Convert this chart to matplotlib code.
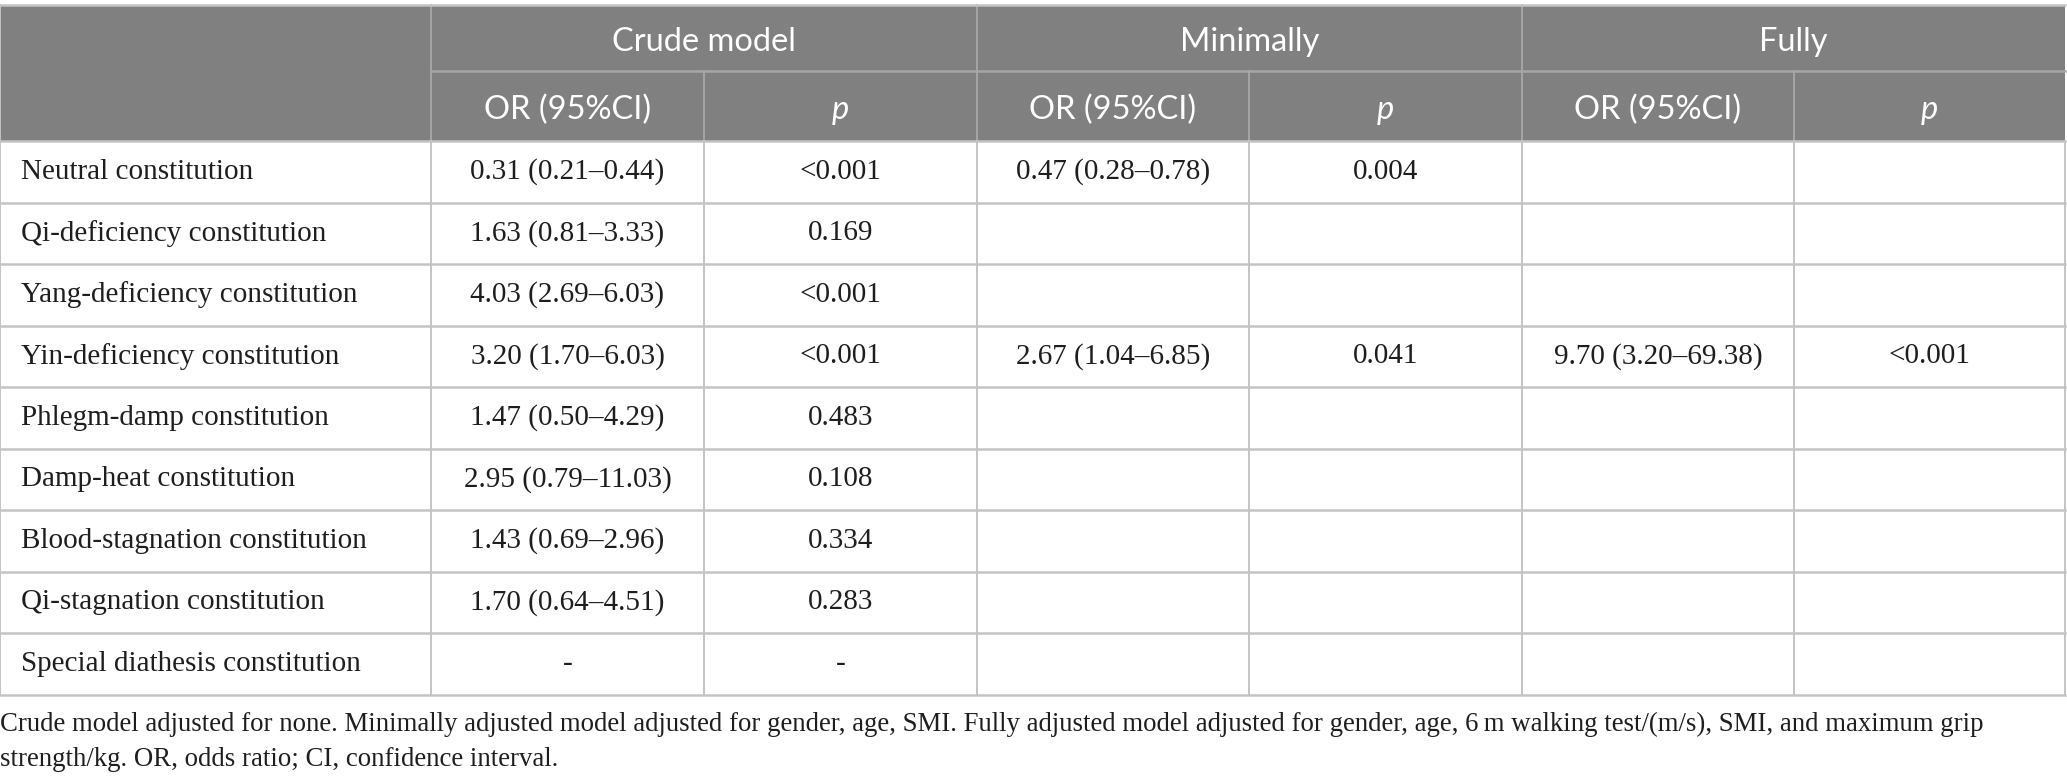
import matplotlib.pyplot as plt
from matplotlib.patches import Rectangle

# table content
row_labels = ['Neutral constitution', 'Qi-deficiency constitution', 'Yang-deficiency constitution',
              'Yin-deficiency constitution', 'Phlegm-damp constitution', 'Damp-heat constitution',
              'Blood-stagnation constitution', 'Qi-stagnation constitution', 'Special diathesis constitution']
model_names = ['Crude model', 'Minimally', 'Fully']
sub_headers = ['OR (95%CI)', 'p']

crude_or = ['0.31 (0.21\u20130.44)', '1.63 (0.81\u20133.33)', '4.03 (2.69\u20136.03)', '3.20 (1.70\u20136.03)',
            '1.47 (0.50\u20134.29)', '2.95 (0.79\u201311.03)', '1.43 (0.69\u20132.96)', '1.70 (0.64\u20134.51)', '-']
crude_p = ['<0.001', '0.169', '<0.001', '<0.001', '0.483', '0.108', '0.334', '0.283', '-']
min_or = ['0.47 (0.28\u20130.78)', '', '', '2.67 (1.04\u20136.85)', '', '', '', '', '']
min_p = ['0.004', '', '', '0.041', '', '', '', '', '']
full_or = ['', '', '', '9.70 (3.20\u201369.38)', '', '', '', '', '']
full_p = ['', '', '', '<0.001', '', '', '', '', '']

footnote = ['Crude model adjusted for none. Minimally adjusted model adjusted for gender, age, SMI. '
            'Fully adjusted model adjusted for gender, age, 6\u2009m walking test/(m/s), SMI, and maximum grip',
            'strength/kg. OR, odds ratio; CI, confidence interval.']

W, H = 2067, 783
fig = plt.figure(figsize=(W / 100, H / 100), dpi=100)
ax = fig.add_axes([0, 0, 1, 1])
ax.set_xlim(0, W)
ax.set_ylim(H, 0)
ax.axis('off')

col_x = [0, 431, 704, 977, 1249, 1522, 1794, 2065]
head_y = [5, 71, 141]
row_h = 61.5
top = head_y[-1]
bottom = top + row_h * len(row_labels)

head_col = '#808080'
line_col = '#c4c4c4'
text_col = '#1e1e1e'
serif = 'Liberation Serif'
sans = 'Lato'

# header background
ax.add_patch(Rectangle((0, head_y[0]), col_x[-1], head_y[-1] - head_y[0], color=head_col, lw=0))
# header inner lines
ax.plot([col_x[1], col_x[-1]], [head_y[1], head_y[1]], color='#a6a6a6', lw=1.8)
for x in col_x[1:-1]:
    y0 = head_y[0] if x in (col_x[1], col_x[3], col_x[5]) else head_y[1]
    ax.plot([x, x], [y0, head_y[2]], color='#a6a6a6', lw=1.4)

for i, name in enumerate(model_names):
    xc = (col_x[1 + 2 * i] + col_x[3 + 2 * i]) / 2
    ax.text(xc, (head_y[0] + head_y[1]) / 2 + 4, name, color='white', fontsize=23.5,
            family=sans, ha='center', va='center')
    for j, sh in enumerate(sub_headers):
        xs = (col_x[1 + 2 * i + j] + col_x[2 + 2 * i + j]) / 2
        ax.text(xs, (head_y[1] + head_y[2]) / 2 + 4, sh, color='white', fontsize=23.5,
                family=sans, ha='center', va='center', style='italic' if sh == 'p' else 'normal')

# body grid
for k in range(len(row_labels) + 1):
    y = top + k * row_h
    ax.plot([0, col_x[-1]], [y, y], color=line_col, lw=1.8)
for x in col_x:
    ax.plot([x, x], [top, bottom], color=line_col, lw=1.4)
ax.plot([0, 0], [head_y[0], top], color=line_col, lw=1.4)
ax.plot([0, col_x[-1]], [head_y[0], head_y[0]], color=line_col, lw=1.8)

columns = [crude_or, crude_p, min_or, min_p, full_or, full_p]
for r, label in enumerate(row_labels):
    yc = top + (r + 0.5) * row_h
    ax.text(21, yc, label, fontsize=21, family=serif, ha='left', va='center', color=text_col)
    for c, vals in enumerate(columns):
        xc = (col_x[c + 1] + col_x[c + 2]) / 2
        ax.text(xc, yc, vals[r], fontsize=21, family=serif, ha='center', va='center', color=text_col)

for i, line in enumerate(footnote):
    ax.text(0, 724 + i * 35, line, fontsize=19.3, family=serif, ha='left', va='center', color=text_col)

fig.savefig('out.png', dpi=100, facecolor='white')
